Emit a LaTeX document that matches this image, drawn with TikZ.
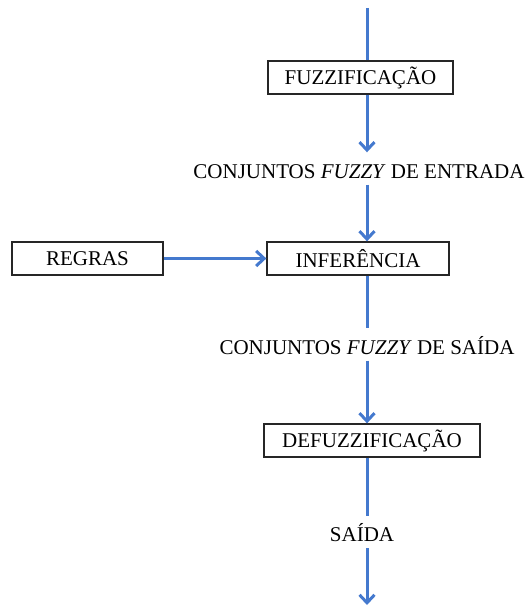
\documentclass[tikz,border=0pt]{standalone}
\usepackage{fontspec}
\setmainfont{Liberation Serif}
\usetikzlibrary{arrows.meta}
\definecolor{fluxo}{RGB}{68,121,206}
\begin{document}
\begin{tikzpicture}[
        >={Straight Barb[length=8bp,width=15bp]},
        x=1bp,y=1bp,
        font=\fontsize{21bp}{24bp}\selectfont,
        caixa/.style={draw=black!85,line width=1.3bp,minimum height=33bp,inner sep=0pt},
        rotulo/.style={text height=14bp,text depth=0pt,inner xsep=0pt,inner ysep=6bp},
        seta/.style={draw=fluxo,line width=3bp},
        ]
        \useasboundingbox (0,0) rectangle (527,606);
        \coordinate (topo) at (367,598);
        \coordinate (fim) at (367,1);
        \node[caixa,minimum width=185bp] (fuzz) at (360.5,528.5) {FUZZIFICAÇÃO};
        \node[rotulo] (conjent) at (359,434.5) {CONJUNTOS \textit{FUZZY} DE ENTRADA};
        \node[caixa,minimum width=182bp] (inf) at (358,347.5) {INFERÊNCIA};
        \node[caixa,minimum width=151bp] (regras) at (87.5,347.5) {REGRAS};
        \node[rotulo] (conjsai) at (367,258.5) {CONJUNTOS \textit{FUZZY} DE SAÍDA};
        \node[caixa,minimum width=216bp] (defuzz) at (372,165.5) {DEFUZZIFICAÇÃO};
        \node[rotulo] (saida) at (362,71) {SAÍDA};
        \draw[seta] (topo) -- (fuzz.north -| topo);
        \draw[seta,->,shorten >=6bp] (fuzz.south -| topo) -- (conjent.north -| topo);
        \draw[seta,->] (conjent.south -| topo) -- (inf.north -| topo);
        \draw[seta,->] (regras) -- (inf);
        \draw[seta,shorten >=6bp] (inf.south -| topo) -- (conjsai.north -| topo);
        \draw[seta,->] (conjsai.south -| topo) -- (defuzz.north -| topo);
        \draw[seta,shorten >=6bp] (defuzz.south -| topo) -- (saida.north -| topo);
        \draw[seta,->] (saida.south -| topo) -- (fim);
\end{tikzpicture}
\end{document}
